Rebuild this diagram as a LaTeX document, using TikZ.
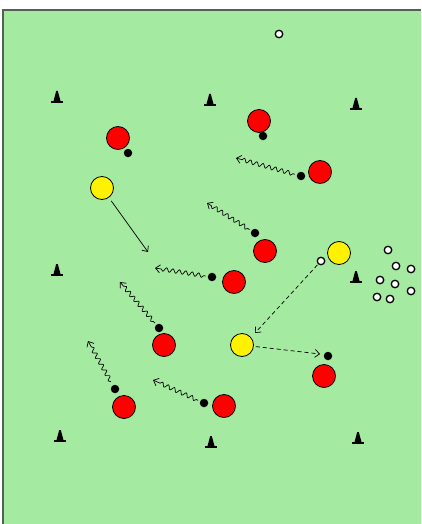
\documentclass[tikz,border=0pt]{standalone}
\usetikzlibrary{arrows.meta,decorations.pathmorphing}
\definecolor{pitch}{RGB}{164,234,160}
\definecolor{frame}{RGB}{85,95,85}
\begin{document}
\begin{tikzpicture}[x=1pt,y=-1pt,
  redpl/.style={circle,draw=black,line width=0.8pt,fill=red,minimum size=23pt,inner sep=0pt},
  yelpl/.style={circle,draw=black,line width=0.8pt,fill=yellow,minimum size=23pt,inner sep=0pt},
  bball/.style={circle,fill=black,minimum size=8.5pt,inner sep=0pt},
  wball/.style={circle,draw=black,fill=white,line width=1.3pt,minimum size=7.5pt,inner sep=0pt},
  tip/.style={-{Straight Barb[length=4.5pt,width=8pt]}},
  run/.style={tip,line width=0.7pt,shorten <=2pt,decorate,decoration={snake,amplitude=2pt,segment length=6.5pt,pre length=4pt,post length=5pt}},
  pass/.style={tip,line width=0.7pt},
  dpass/.style={tip,line width=0.7pt,dash pattern=on 4pt off 3pt},
  cone/.pic={\fill (-0.8,-11) -- (0.8,-11) -- (3.5,-1) -- (-3.5,-1) -- cycle;
             \fill (-6,-1) rectangle (6,1);}
]
\useasboundingbox (0,0) rectangle (421,524);
\fill[white] (0,0) rectangle (421,524);
\fill[pitch] (3,10) rectangle (421,524);
\draw[frame,line width=1.3pt] (3,524) -- (3,10) -- (421,10);

% cones
\foreach \x/\y in {57/102,210/105,356/109,57/275,356/282,60/441,211/447,358/443}
  \pic at (\x,\y) {cone};

% balls
\node[wball] (w1) at (279,34) {};
\node[wball] (w2) at (321,261) {};
\node[wball] (c1) at (388,250) {};
\node[wball] (c2) at (396,266) {};
\node[wball] (c3) at (411,269) {};
\node[wball] (c4) at (380,280) {};
\node[wball] (c5) at (395,284) {};
\node[wball] (c6) at (411,291) {};
\node[wball] (c7) at (377,297) {};
\node[wball] (c8) at (390,299) {};

% red players
\node[redpl] (r1) at (118,138) {};
\node[redpl] (r2) at (259,121) {};
\node[redpl] (r3) at (320,172) {};
\node[redpl] (r4) at (265,251) {};
\node[redpl] (r5) at (234,282) {};
\node[redpl] (r6) at (164,345) {};
\node[redpl] (r7) at (124,407) {};
\node[redpl] (r8) at (224,406) {};
\node[redpl] (r9) at (324,376) {};

% black balls
\node[bball] (b1) at (128,153) {};
\node[bball] (b2) at (263,136) {};
\node[bball] (b3) at (301,176) {};
\node[bball] (b4) at (255,233) {};
\node[bball] (b5) at (212,277) {};
\node[bball] (b6) at (159,328) {};
\node[bball] (b7) at (115,389) {};
\node[bball] (b8) at (204,403) {};
\node[bball] (b9) at (328,356) {};

% yellow players
\node[yelpl] (y1) at (102,188) {};
\node[yelpl] (y2) at (339,253) {};
\node[yelpl] (y3) at (242,345) {};

% arrow ends
\coordinate (t3) at (236,158);
\coordinate (t4) at (207,203);
\coordinate (t5) at (155,268);
\coordinate (t6) at (120,282);
\coordinate (t7) at (88,341);
\coordinate (t8) at (153,380);
\coordinate (p1) at (148,252);
\coordinate (p2) at (255,333);
\coordinate (p3) at (320,354);

% dribbles
\draw[run] (b3) -- (t3);
\draw[run] (b4) -- (t4);
\draw[run] (b5) -- (t5);
\draw[run] (b6) -- (t6);
\draw[run,shorten <=4pt] (b7) -- (t7);
\draw[run] (b8) -- (t8);

% passes and runs
\draw[pass,shorten <=4pt] (y1) -- (p1);
\draw[dpass,shorten <=1pt] (w2) -- (p2);
\draw[dpass,shorten <=2pt] (y3) -- (p3);
\end{tikzpicture}
\end{document}
